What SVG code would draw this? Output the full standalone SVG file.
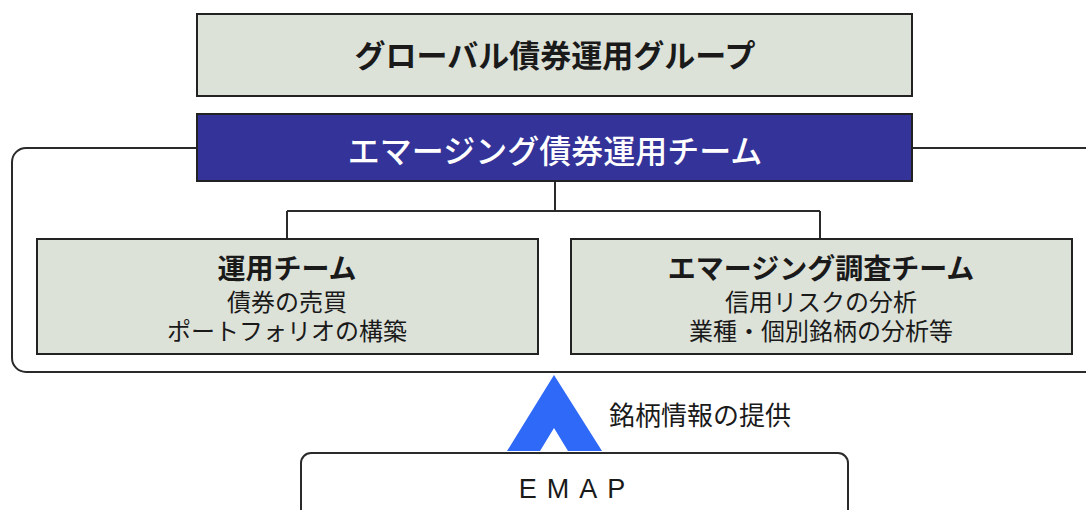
<svg xmlns="http://www.w3.org/2000/svg" width="1086" height="510" viewBox="0 0 1086 510">
<style>
.box{fill:#dde2d9;stroke:#222;stroke-width:2}
.line{fill:none;stroke:#2a2a2a;stroke-width:2}
.jp{font-family:"Noto Sans CJK JP","Noto Sans",sans-serif;text-anchor:middle;fill:#1a1a1a}
.b{font-weight:bold}
</style>
<g id="container">
<rect class="line" x="12" y="148" width="1100" height="224" rx="14" ry="14"/>
</g>
<g id="connectors">
<path class="line" d="M555 181 V211 M287 211 H820 M287 211 V239 M820 211 V239"/>
<polygon fill="#2f69f8" points="554,375 602,451 568,451 554,428 540,451 507,451"/>
</g>
<g id="global">
<rect class="box" x="197" y="14" width="715" height="82"/>
<text class="jp b" x="555" y="67" font-size="31">グローバル債券運用グループ</text>
</g>
<g id="emerging-team">
<rect x="197" y="114" width="715" height="67" fill="#343399" stroke="#222" stroke-width="2"/>
<text class="jp" x="555" y="163" font-size="32" font-weight="500" style="fill:#fff">エマージング債券運用チーム</text>
</g>
<g id="unyo">
<rect class="box" x="37" y="239" width="501" height="115"/>
<text class="jp b" x="287" y="279" font-size="28">運用チーム</text>
<text class="jp" x="287" y="311" font-size="24">債券の売買</text>
<text class="jp" x="287" y="340" font-size="24">ポートフォリオの構築</text>
</g>
<g id="research">
<rect class="box" x="571" y="239" width="501" height="115"/>
<text class="jp b" x="821" y="279" font-size="28">エマージング調査チーム</text>
<text class="jp" x="821" y="311" font-size="24">信用リスクの分析</text>
<text class="jp" x="821" y="340" font-size="24">業種・個別銘柄の分析等</text>
</g>
<g id="label">
<text class="jp" x="609" y="425" font-size="26" style="text-anchor:start">銘柄情報の提供</text>
</g>
<g id="emap">
<rect x="301" y="453" width="547" height="80" rx="10" ry="10" fill="#fff" stroke="#2a2a2a" stroke-width="2"/>
<text x="577" y="498" font-family="Liberation Sans, Arial, sans-serif" font-size="27" letter-spacing="10" text-anchor="middle" fill="#1a1a1a">EMAP</text>
</g>
</svg>
